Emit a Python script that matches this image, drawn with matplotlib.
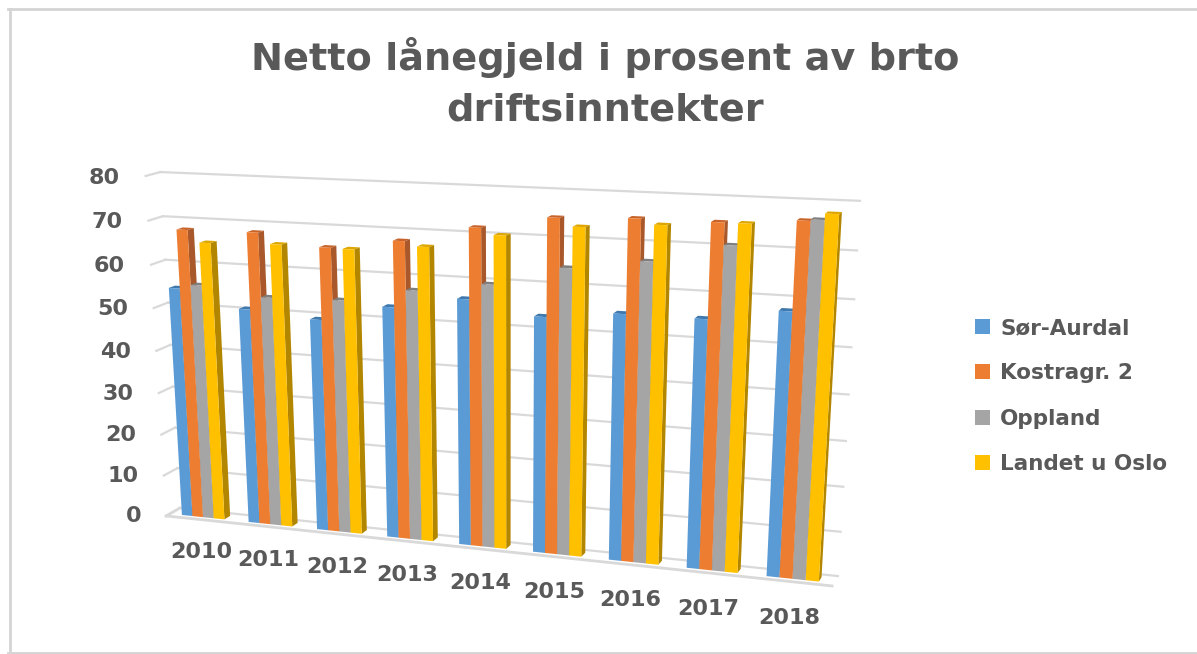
import numpy as np
import matplotlib
matplotlib.use("Agg")
import matplotlib.pyplot as plt
from matplotlib.patches import Patch
from matplotlib.lines import Line2D

years = ["2010", "2011", "2012", "2013", "2014", "2015", "2016", "2017", "2018"]
series_names = ["Sør-Aurdal", "Kostragr. 2", "Oppland", "Landet u Oslo"]
sor_aurdal = [54.5, 50.7, 49.4, 53.3, 56.1, 53.3, 55.0, 55.0, 57.7]
kostragr = [68.0, 68.2, 65.7, 68.0, 71.7, 74.6, 75.2, 75.2, 76.3]
oppland = [55.5, 53.7, 54.1, 57.3, 59.6, 64.1, 66.4, 70.6, 76.6]
landet = [65.3, 65.8, 65.6, 67.0, 70.3, 72.9, 74.1, 75.2, 77.9]
value_ticks = [0, 10, 20, 30, 40, 50, 60, 70, 80]
title = "Netto lånegjeld i prosent av brto\ndriftsinntekter"

front_colors = ["#5B9BD5", "#ED7D31", "#A5A5A5", "#FFC000"]
top_colors = ["#3F79AE", "#C8642A", "#7F7F7F", "#DDA600"]
side_colors = ["#3F6F9C", "#A8582A", "#757575", "#B38600"]
TEXT = "#595959"
GRID = "#D9D9D9"
W, H = 1197, 654

# camera calibration: box corners (x, depth, value) -> picture pixels
box = [(0, 0, 0), (9, 0, 0), (0, 1, 0), (9, 1, 0), (0, 0, 80), (9, 0, 80), (0, 1, 80), (9, 1, 80)]
pix = [(166, 516), (832, 586), (180, 508), (838, 576), (146, 176), (854, 205.5), (160, 172), (860, 201)]
A = []
for (X, Y, Z), (u, v) in zip(box, pix):
    p = [X / 9, Y, Z / 80, 1]
    A.append(p + [0, 0, 0, 0] + [-u * c for c in p])
    A.append([0, 0, 0, 0] + p + [-v * c for c in p])
P = np.linalg.svd(np.array(A, float))[2][-1].reshape(3, 4)
P = P @ np.diag([1 / 9, 1, 1 / 80, 1])
P = P / P[2, 3]
M = np.vstack([P[0], P[1], [0, 1, 0, 0], P[2]])


def to_fig(x, y, z):
    u, v, w = P @ np.array([x, y, z, 1.0])
    return u / w / W, 1 - v / w / H


fig = plt.figure(figsize=(W / 100, H / 100), dpi=100, facecolor="white")
ax = fig.add_axes([0, 0, 1, 1], projection="3d")
ax.set_proj_type("ortho")
ax.apply_aspect = lambda position=None: None
ax.get_proj = lambda: M
ax.computed_zorder = False
ax.set_axis_off()

# walls and floor lines
for v in value_ticks:
    ax.plot([0, 9], [1, 1], [v, v], color=GRID, lw=1.6, zorder=1)
    ax.plot([0, 0], [0, 1], [v, v], color=GRID, lw=1.6, zorder=1)
ax.plot([0, 9], [0, 0], [0, 0], color=GRID, lw=2.0, zorder=1)
ax.plot([0, 0], [0, 1], [0, 0], color=GRID, lw=2.0, zorder=1)

GAP, BAR, Y0, DY = 0.18, 0.16, 0.28, 0.44
clear = (0, 0, 0, 0)
n = len(years)
for k, vals in enumerate([sor_aurdal, kostragr, oppland, landet]):
    xs = np.arange(n) + GAP + k * BAR
    cols = [clear, top_colors[k], front_colors[k], clear, clear, side_colors[k]] * n
    ax.bar3d(xs, np.full(n, Y0), np.zeros(n), BAR, DY, np.array(vals), color=cols,
             shade=False, zorder=2 + k)

ax.viewLim.intervalx = (0, W)
ax.viewLim.intervaly = (H, 0)

for v in value_ticks:
    fx, fy = to_fig(-0.38, 0, v)
    fig.text(fx, fy - 3 / H, str(v), ha="right", va="center", fontsize=16, fontweight="bold", color=TEXT)
for i, y in enumerate(years):
    fx, fy = to_fig(i + 0.5, 0, -8.2)
    fig.text(fx, fy, y, ha="center", va="center", fontsize=16, fontweight="bold", color=TEXT)

fig.text(605 / W, 1 - 83 / H, title, ha="center", va="center", fontsize=27.5,
         fontweight="bold", color=TEXT, linespacing=1.52)

handles = [Patch(facecolor=c, edgecolor="none") for c in front_colors]
fig.legend(handles, series_names, loc="center left", bbox_to_anchor=(975 / W, 1 - 396 / H),
           frameon=False, prop={"size": 15.5, "weight": "bold"}, labelcolor=TEXT,
           handlelength=0.7, handleheight=0.7, handletextpad=0.47, labelspacing=1.17,
           borderaxespad=0, borderpad=0)

frame = "#D4D4D4"
fig.add_artist(Line2D([9.5 / W, 9.5 / W], [1 - 9 / H, 0], transform=fig.transFigure, color=frame, lw=2))
fig.add_artist(Line2D([8 / W, 1], [1 - 9 / H] * 2, transform=fig.transFigure, color=frame, lw=2))
fig.add_artist(Line2D([8 / W, 1], [1 - 652.5 / H] * 2, transform=fig.transFigure, color=frame, lw=2))

fig.savefig("out.png", dpi=100)
